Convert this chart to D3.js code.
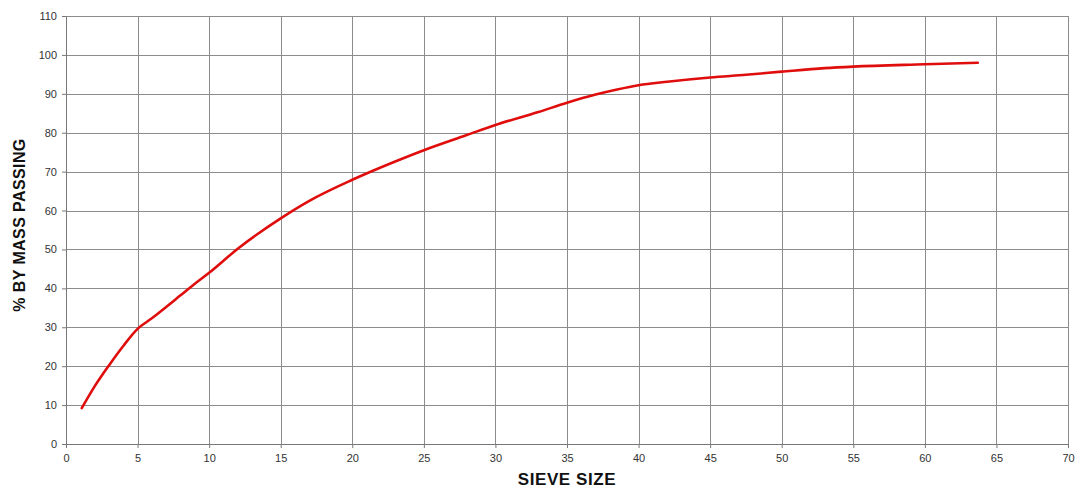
<!DOCTYPE html>
<html>
<head>
<meta charset="utf-8">
<script src="https://cdn.jsdelivr.net/npm/d3@7"></script>
<style>
  body { margin: 0; background: #fff; }
  .grid line { stroke: #8c8c8c; stroke-width: 1; }
  .axis text { font-family: "Liberation Sans", Arial, sans-serif; font-size: 11px; fill: #333; }
  .axis line, .axis path { stroke: #777; }
  .title { font-family: "Liberation Sans", Arial, sans-serif; font-weight: bold; fill: #111; }
</style>
</head>
<body>
<div class="chart"></div>
<script>
const w = 1080;
const h = 488;
const margin = { top: 16, right: 12, bottom: 44, left: 66 };
const width = w - margin.left - margin.right;
const height = h - margin.top - margin.bottom;

// grading curve
const sieveSize = [1.1, 2, 3, 4, 5, 6, 7, 8, 9, 10, 12, 15, 17, 20, 23, 25, 28, 30, 33, 35, 37, 38.5, 40, 42, 45, 47.5, 50, 53, 55, 60, 63.7];
const passing = [9.2, 14.8, 20.2, 25.2, 29.6, 32.3, 35.2, 38.2, 41.2, 44.0, 50.2, 58.0, 62.5, 67.9, 72.6, 75.5, 79.4, 82.0, 85.3, 87.7, 89.8, 91.1, 92.2, 93.1, 94.2, 94.9, 95.7, 96.6, 97.0, 97.6, 98.0];
const xTicks = d3.range(0, 71, 5);
const yTicks = d3.range(0, 111, 10);

const x = d3.scaleLinear().domain([0, 70]).range([0, width]);
const y = d3.scaleLinear().domain([0, 110]).range([height, 0]);

const svg = d3.select(".chart")
    .append("svg")
    .attr("width", w)
    .attr("height", h);

const g = svg.append("g")
    .attr("transform", "translate(" + margin.left + "," + margin.top + ")");

// gridlines
g.append("g").attr("class", "grid")
    .selectAll("line").data(yTicks).enter().append("line")
    .attr("x1", 0).attr("x2", width)
    .attr("y1", d => Math.round(y(d)) + 0.5).attr("y2", d => Math.round(y(d)) + 0.5);
g.append("g").attr("class", "grid")
    .selectAll("line").data(xTicks).enter().append("line")
    .attr("y1", 0).attr("y2", height)
    .attr("x1", d => Math.round(x(d)) + 0.5).attr("x2", d => Math.round(x(d)) + 0.5);

// axes
const xAxis = g.append("g").attr("class", "axis")
    .attr("transform", "translate(0," + height + ")")
    .call(d3.axisBottom(x).tickValues(xTicks).tickSize(4).tickPadding(6).tickSizeOuter(0));
const yAxis = g.append("g").attr("class", "axis")
    .call(d3.axisLeft(y).tickValues(yTicks).tickSize(4).tickPadding(5).tickSizeOuter(0));

// curve
const line = d3.line()
    .x((d, i) => x(sieveSize[i]))
    .y(d => y(d))
    .curve(d3.curveMonotoneX);

g.append("path")
    .datum(passing)
    .attr("d", line)
    .attr("fill", "none")
    .attr("stroke", "#e00d0d")
    .attr("stroke-width", 2.6)
    .attr("stroke-linecap", "round");

// titles
svg.append("text")
    .attr("class", "title")
    .attr("x", margin.left + width / 2)
    .attr("y", 485)
    .attr("text-anchor", "middle")
    .style("font-size", "17px")
    .style("letter-spacing", "0.6px")
    .text("SIEVE SIZE");

svg.append("text")
    .attr("class", "title")
    .attr("transform", "translate(25," + (margin.top + height / 2 - 5) + ") rotate(-90)")
    .attr("text-anchor", "middle")
    .style("font-size", "16px")
    .style("letter-spacing", "0.4px")
    .text("% BY MASS PASSING");
</script>
</body>
</html>
